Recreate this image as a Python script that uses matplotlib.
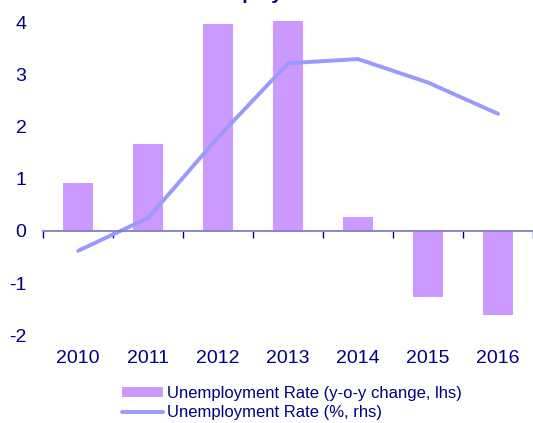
import numpy as np
import matplotlib.pyplot as plt
from matplotlib.ticker import FixedLocator

years = ['2010', '2011', '2012', '2013', '2014', '2015', '2016']
rate_change = [0.92, 1.67, 3.98, 4.04, 0.27, -1.27, -1.62]   # y-o-y change, lhs
rate_level = [-0.38, 0.25, 1.80, 3.22, 3.30, 2.85, 2.25]     # %, rhs (drawn on lhs scale)
yticks = [-2, -1, 0, 1, 2, 3, 4]

bar_col = '#CC99FF'
line_col = '#9999FF'
txt_col = '#000080'

plt.rcParams['font.family'] = ['Liberation Sans', 'DejaVu Sans']

fig = plt.figure(figsize=(5.33, 4.23), dpi=100)
ax = fig.add_axes([0.081, 0.183, 0.919, 0.8005])

x = np.arange(len(years))
bars = ax.bar(x, rate_change, width=0.43, color=bar_col, zorder=2,
              label='Unemployment Rate (y-o-y change, lhs)')
line, = ax.plot(x, rate_level, color=line_col, lw=2.8, solid_capstyle='round', zorder=3,
                label='Unemployment Rate (%, rhs)')

ax.set_xlim(-0.5, len(years) - 0.5)
ax.set_ylim(-2.2, 4.3)

# zero line with category separators
for s in ['top', 'right', 'left']:
    ax.spines[s].set_visible(False)
ax.spines['bottom'].set_position(('data', 0))
ax.spines['bottom'].set_color('#8080C0')
ax.spines['bottom'].set_linewidth(1.3)
ax.spines['bottom'].set_zorder(4)
ax.set_xticks(x)
ax.tick_params(axis='x', which='major', length=0, labelbottom=False)
ax.xaxis.set_minor_locator(FixedLocator(np.arange(-0.5, len(years), 1.0)))
ax.tick_params(axis='x', which='minor', length=5, width=1, color=txt_col, direction='out')

ax.set_yticks(yticks)
ax.set_yticklabels([str(v) for v in yticks])
ax.tick_params(axis='y', length=0, pad=12, labelsize=14, labelcolor=txt_col)

sec = ax.secondary_xaxis('bottom')
sec.spines['bottom'].set_visible(False)
sec.set_xticks(x, labels=years)
sec.tick_params(length=0, pad=3, labelsize=14, labelcolor=txt_col)

# title sits mostly above the canvas, as in the source image
fig.text(0.486, 1.002, 'Unemployment', ha='center', va='baseline',
         fontsize=14, fontweight='bold', color=txt_col)

fig.legend([bars, line], [bars.get_label(), line.get_label()],
           loc='upper left', bbox_to_anchor=(0.229, 0.0875), bbox_transform=fig.transFigure,
           frameon=False, fontsize=12, labelcolor=txt_col, handlelength=2.45,
           handletextpad=0.25, labelspacing=0.27, borderaxespad=0, borderpad=0,
           handleheight=0.6)

fig.savefig('out.png', dpi=100)
